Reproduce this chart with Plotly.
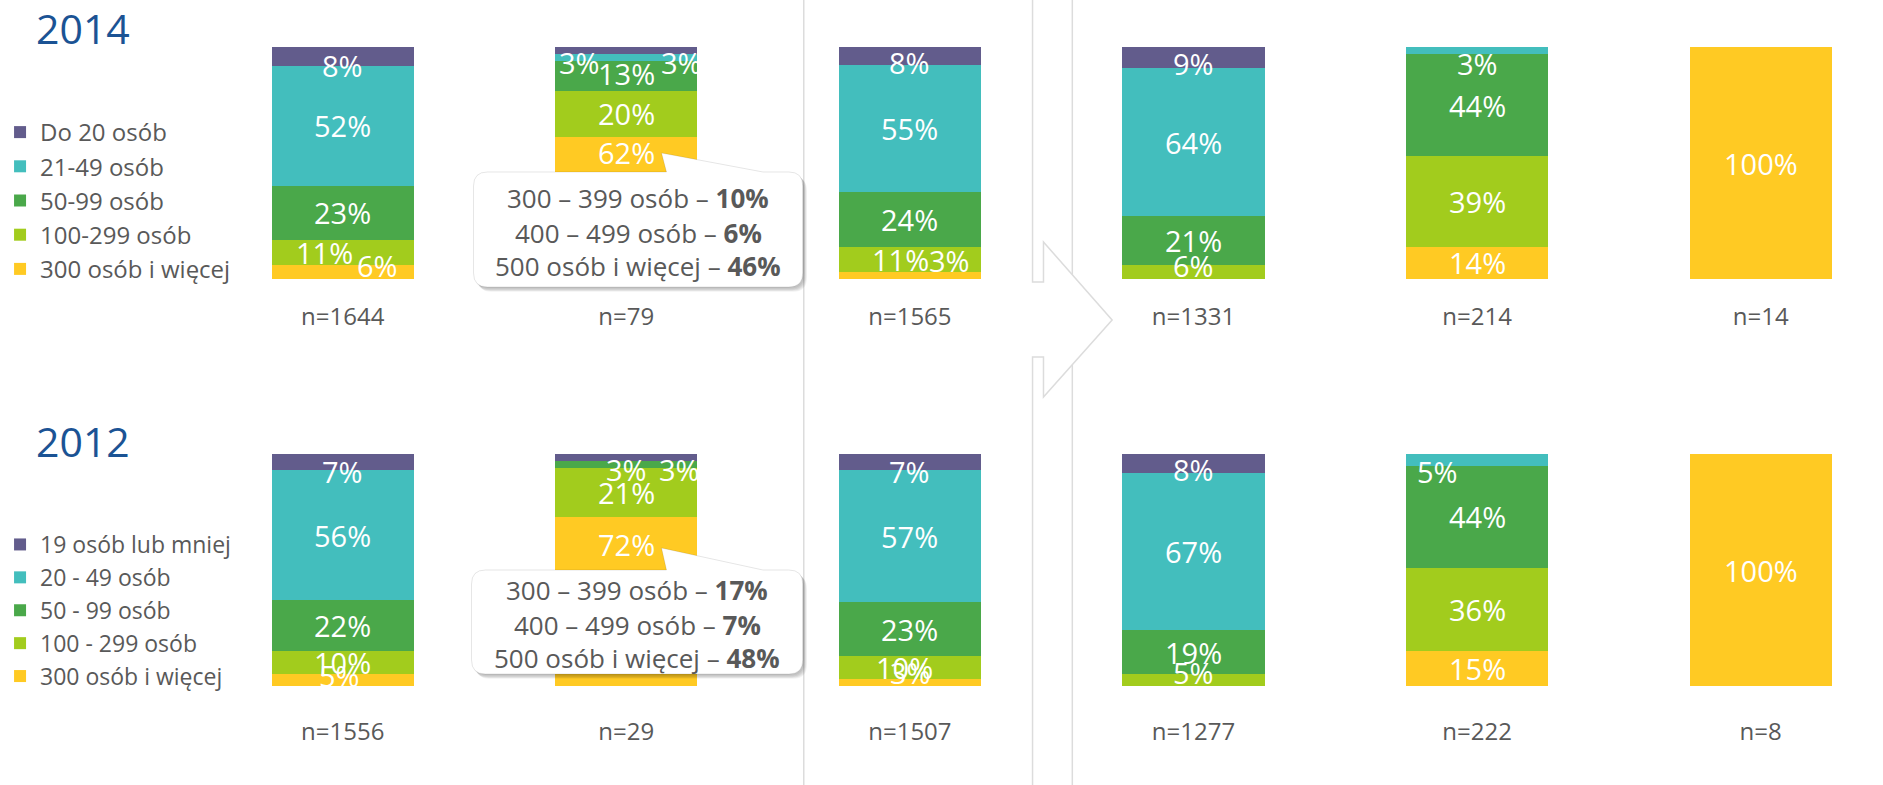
import plotly.graph_objects as go

W, H = 1883, 785

# ---------------- data ----------------
cats_2014 = ["Do 20 osób", "21-49 osób", "50-99 osób", "100-299 osób", "300 osób i więcej"]
cats_2012 = ["19 osób lub mniej", "20 - 49 osób", "50 - 99 osób", "100 - 299 osób", "300 osób i więcej"]
n_2014 = ["n=1644", "n=79", "n=1565", "n=1331", "n=214", "n=14"]
n_2012 = ["n=1556", "n=29", "n=1507", "n=1277", "n=222", "n=8"]

# values per size class, one entry per bar (top of stack first)
v2014_purple = [8, 3, 8, 9, 0, 0]
v2014_teal = [52, 3, 55, 64, 3, 0]
v2014_green = [23, 13, 24, 21, 44, 0]
v2014_lime = [11, 20, 11, 6, 39, 0]
v2014_yellow = [6, 62, 3, 0, 14, 100]

v2012_purple = [7, 3, 7, 8, 0, 0]
v2012_teal = [56, 0, 57, 67, 5, 0]
v2012_green = [22, 3, 23, 19, 44, 0]
v2012_lime = [10, 21, 10, 5, 36, 0]
v2012_yellow = [5, 72, 3, 0, 15, 100]

callout_2014 = [("300 – 399 osób", "10%"), ("400 – 499 osób", "6%"), ("500 osób i więcej", "46%")]
callout_2012 = [("300 – 399 osób", "17%"), ("400 – 499 osób", "7%"), ("500 osób i więcej", "48%")]

colors = ["#625c8c", "#43bebd", "#4aa84a", "#a2cc1d", "#ffca23"]
FONT = "Open Sans"
GREY = "#595959"

series_2014 = [v2014_purple, v2014_teal, v2014_green, v2014_lime, v2014_yellow]
series_2012 = [v2012_purple, v2012_teal, v2012_green, v2012_lime, v2012_yellow]

# label offsets (px right, px down) for crowded small segments: (bar, series) -> (dx, dy)
offs_2014 = {(0, 0): (0, 9), (0, 3): (-18, 0), (0, 4): (35, -7),
             (1, 0): (55, 12), (1, 1): (-47, 5), (1, 2): (0, -2), (1, 4): (0, -55),
             (2, 0): (0, 6), (2, 3): (-9, 0), (2, 4): (40, -15),
             (3, 0): (0, 6), (3, 3): (0, -7),
             (4, 1): (0, 13)}
offs_2012 = {(0, 0): (0, 9), (0, 4): (-3, -5),
             (1, 0): (53, 12), (1, 2): (0, 5), (1, 4): (0, -57),
             (2, 0): (0, 9), (2, 3): (-5, 0), (2, 4): (1, -10),
             (3, 0): (0, 6), (3, 3): (0, -8),
             (4, 1): (-40, 12)}


def px(x):
    return x / W


def py(y):
    return 1 - y / H


fig = go.Figure()
xs = list(range(6))
BARW = 143 / 285.1

rows = [
    (series_2014, cats_2014, "x", "y", "legend", offs_2014),
    (series_2012, cats_2012, "x2", "y2", "legend2", offs_2012),
]
annotations = []
for series, cats, xa, ya, lg, offs in rows:
    # stacking from bottom: yellow first
    for k in reversed(range(5)):
        fig.add_trace(go.Bar(
            x=xs, y=series[k], name=cats[k], marker_color=colors[k],
            marker_line_width=0, width=BARW, xaxis=xa, yaxis=ya,
            legend=lg, legendgroup=lg + str(k), legendrank=k, hoverinfo="skip",
        ))
    # labels at segment centres (normalised stack)
    for i in xs:
        tot = sum(s[i] for s in series)
        cum = 0.0
        for k in reversed(range(5)):
            v = series[k][i]
            if v <= 0:
                continue
            mid = (cum + v / 2) / tot * 100
            cum += v
            dx, dy = offs.get((i, k), (0, 0))
            annotations.append(dict(
                x=i, y=mid, xref=xa, yref=ya, text=f"{v}%", showarrow=False,
                xshift=dx, yshift=-dy, font=dict(family=FONT, size=29, color="white"),
                xanchor="center", yanchor="middle",
            ))

# titles
for t, yc in (("2014", 28), ("2012", 441)):
    annotations.append(dict(x=px(24), y=py(yc), xref="paper", yref="paper", text=t,
                            showarrow=False, xanchor="left", yanchor="middle",
                            font=dict(family=FONT, size=41, color="#1b5394")))

# callouts
shapes = []


def callout_path(L, T, R, B, tip, base0, base1, r=14, dx=0, dy=0):
    def P(x, y):
        return f"{px(x + dx):.6f},{py(y + dy):.6f}"
    d = (f"M{P(L + r, T)} L{P(base0, T)} L{P(tip[0], tip[1])} L{P(base1, T)} L{P(R - r, T)} "
         f"Q{P(R, T)} {P(R, T + r)} L{P(R, B - r)} Q{P(R, B)} {P(R - r, B)} "
         f"L{P(L + r, B)} Q{P(L, B)} {P(L, B - r)} L{P(L, T + r)} Q{P(L, T)} {P(L + r, T)} Z")
    return d


boxes = [
    (callout_2014, (466, 172, 797, 287), (655, 153), (660, 757), (198, 233, 266)),
    (callout_2012, (464, 570, 797, 674), (655, 548), (660, 757), (590, 625, 658)),
]
for lines, (L, T, R, B), tip, (b0, b1), ys in boxes:
    for s in (6, 5, 4, 3, 2):
        shapes.append(dict(type="path", xref="paper", yref="paper", layer="above",
                           path=callout_path(L, T, R, B, tip, b0, b1, dx=s * 0.7, dy=s * 0.8),
                           fillcolor="rgba(0,0,0,0.05)", line=dict(width=0)))
    shapes.append(dict(type="path", xref="paper", yref="paper", layer="above",
                       path=callout_path(L, T, R, B, tip, b0, b1),
                       fillcolor="white", line=dict(color="rgba(0,0,0,0.10)", width=1)))
    for (txt, val), yc in zip(lines, ys):
        annotations.append(dict(x=px((L + R) / 2), y=py(yc), xref="paper", yref="paper",
                                text=f"{txt} – <b>{val}</b>", showarrow=False,
                                xanchor="center", yanchor="middle",
                                font=dict(family=FONT, size=26, color=GREY)))

# separators and arrow
LINEC = "#dcdcdc"
shapes.append(dict(type="line", xref="paper", yref="paper", x0=px(798), x1=px(798), y0=0, y1=1,
                   line=dict(color=LINEC, width=1.5), layer="below"))
shapes.append(dict(type="line", xref="paper", yref="paper", x0=px(1068), x1=px(1068), y0=0, y1=1,
                   line=dict(color=LINEC, width=1.5), layer="below"))
arrow_pts = [(1028, 0), (1028, 282), (1039, 282), (1039, 242), (1108, 320), (1039, 397),
             (1039, 357), (1028, 357), (1028, 785)]
arrow = "M" + " L".join(f"{px(a):.6f},{py(b):.6f}" for a, b in arrow_pts)
shapes.append(dict(type="path", xref="paper", yref="paper", path=arrow, fillcolor="white",
                   line=dict(color=LINEC, width=1.5), layer="below"))

xr = [-334.5 / 285.1, (W - 334.5) / 285.1]
axis_common = dict(range=xr, domain=[0, 1], showgrid=False, zeroline=False, showline=False,
                   tickmode="array", tickvals=xs, ticks="",
                   tickfont=dict(family=FONT, size=24, color=GREY), fixedrange=True)
yaxis_common = dict(range=[0, 100], showgrid=False, zeroline=False, showline=False,
                    showticklabels=False, fixedrange=True)

legend_common = dict(bgcolor="rgba(0,0,0,0)", xanchor="left", yanchor="top",
                     traceorder="grouped", itemclick=False, itemdoubleclick=False,
                     x=-10 / W)

fig.update_layout(
    width=W, height=H, autosize=False,
    margin=dict(l=0, r=0, t=0, b=0),
    paper_bgcolor="white", plot_bgcolor="rgba(0,0,0,0)",
    barmode="stack", barnorm="percent",
    xaxis=dict(**axis_common, anchor="y", ticktext=n_2014, ticklabelstandoff=21),
    yaxis=dict(**yaxis_common, domain=[1 - 279 / H, 1 - 47 / H], anchor="x"),
    xaxis2=dict(**axis_common, anchor="y2", ticktext=n_2012, ticklabelstandoff=29),
    yaxis2=dict(**yaxis_common, domain=[1 - 686 / H, 1 - 454 / H], anchor="x2"),
    legend=dict(**legend_common, y=py(110), tracegroupgap=0,
                font=dict(family=FONT, size=24, color=GREY)),
    legend2=dict(**legend_common, y=py(523), tracegroupgap=0,
                 font=dict(family=FONT, size=23, color=GREY)),
    annotations=annotations,
    shapes=shapes,
    showlegend=True,
)

fig.write_html("out.html", config={"displayModeBar": False},
               post_script="document.body.style.margin='0px';")
